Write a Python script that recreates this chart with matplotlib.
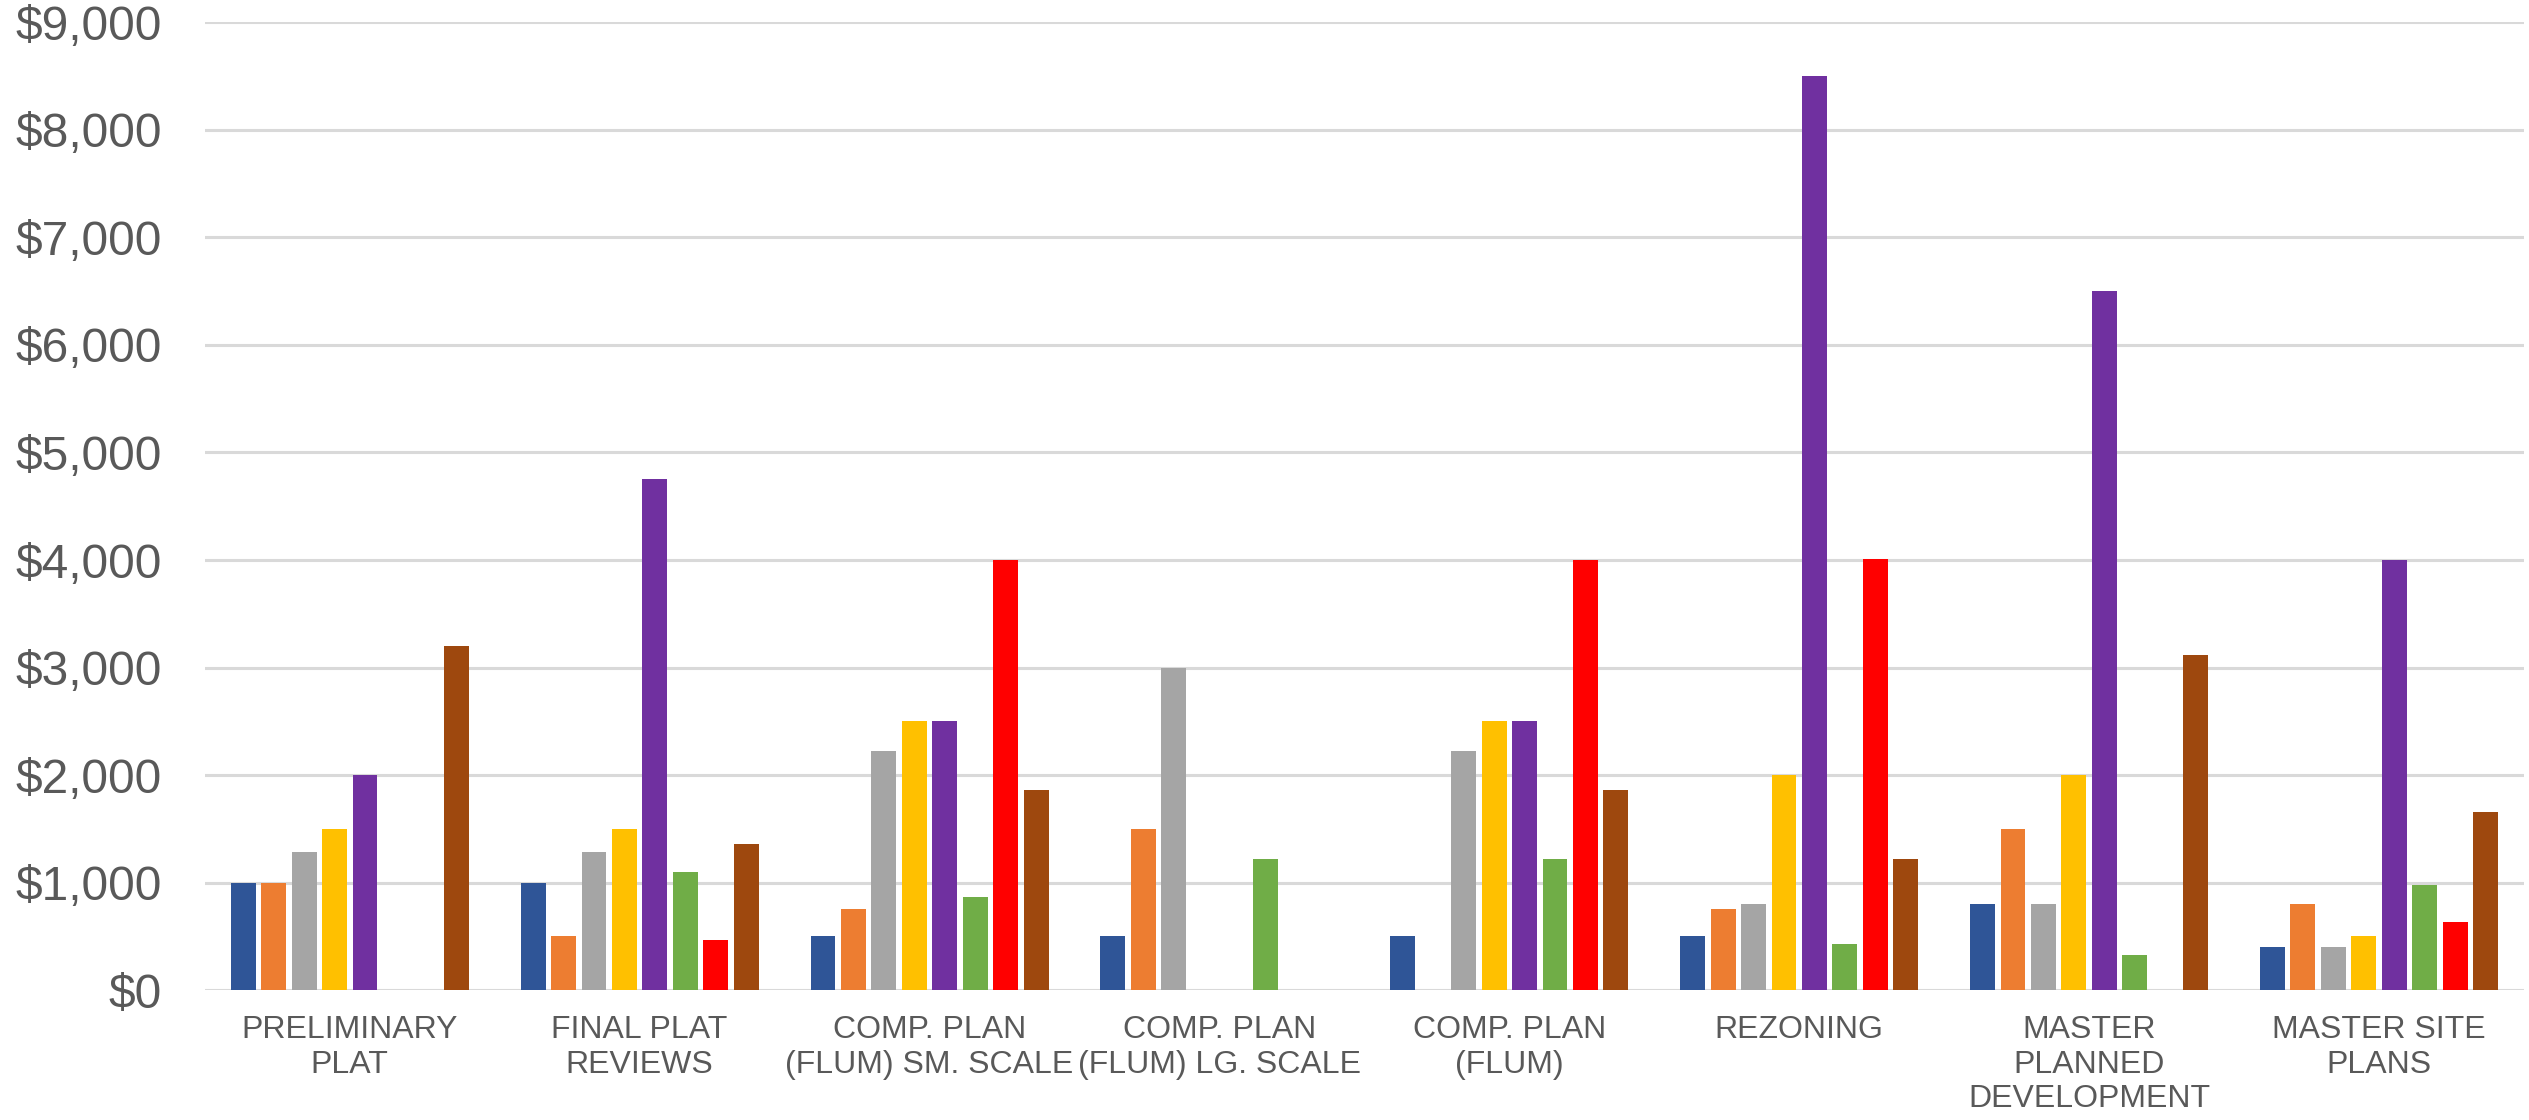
import numpy as np
import matplotlib.pyplot as plt

plt.rcParams['font.family'] = ['Liberation Sans', 'DejaVu Sans']

# Categories along the x axis
categories = ['PRELIMINARY\nPLAT', 'FINAL PLAT\nREVIEWS', 'COMP. PLAN\n(FLUM) SM. SCALE',
              'COMP. PLAN\n(FLUM) LG. SCALE', 'COMP. PLAN\n(FLUM)', 'REZONING',
              'MASTER\nPLANNED\nDEVELOPMENT', 'MASTER SITE\nPLANS']

# One list per series (fee in dollars), 0 = no bar
s1 = [1000, 1000, 500, 500, 500, 500, 800, 400]
s2 = [1000, 500, 750, 1500, 0, 750, 1500, 800]
s3 = [1280, 1280, 2220, 3000, 2220, 800, 800, 400]
s4 = [1500, 1500, 2500, 0, 2500, 2000, 2000, 500]
s5 = [2000, 4750, 2500, 0, 2500, 8500, 6500, 4000]
s6 = [0, 1100, 870, 1220, 1220, 425, 325, 975]
s7 = [0, 465, 4000, 0, 4000, 4010, 0, 630]
s8 = [3200, 1360, 1865, 0, 1865, 1215, 3115, 1660]

series = [s1, s2, s3, s4, s5, s6, s7, s8]
colors = ['#2F5597', '#ED7D31', '#A5A5A5', '#FFC000', '#7030A0', '#70AD47', '#FF0000', '#9E480E']

yticks = np.arange(0, 9001, 1000)

fig = plt.figure(figsize=(25.29, 11.20), dpi=100)
ax = fig.add_axes([0.081, 0.116, 0.917, 0.864])

x = np.arange(len(categories))
slot = 0.105
width = 0.086
for j, (vals, c) in enumerate(zip(series, colors)):
    ax.bar(x + (j - 3.5) * slot, vals, width=width, color=c, zorder=3)

ax.set_xlim(-0.5, len(categories) - 0.5)
ax.set_ylim(0, 9000)
ax.set_yticks(yticks)
ax.set_yticklabels(['${:,}'.format(v) for v in yticks])
ax.set_xticks(x)
ax.set_xticklabels(categories, linespacing=1.2)

ax.grid(axis='y', color='#D9D9D9', linewidth=2.2, zorder=0)
for s in ax.spines.values():
    s.set_visible(False)
ax.tick_params(axis='y', length=0, pad=31, labelsize=34.5, labelcolor='#595959')
ax.tick_params(axis='x', length=0, pad=18, labelsize=23, labelcolor='#595959')

fig.savefig('out.png', dpi=100)
